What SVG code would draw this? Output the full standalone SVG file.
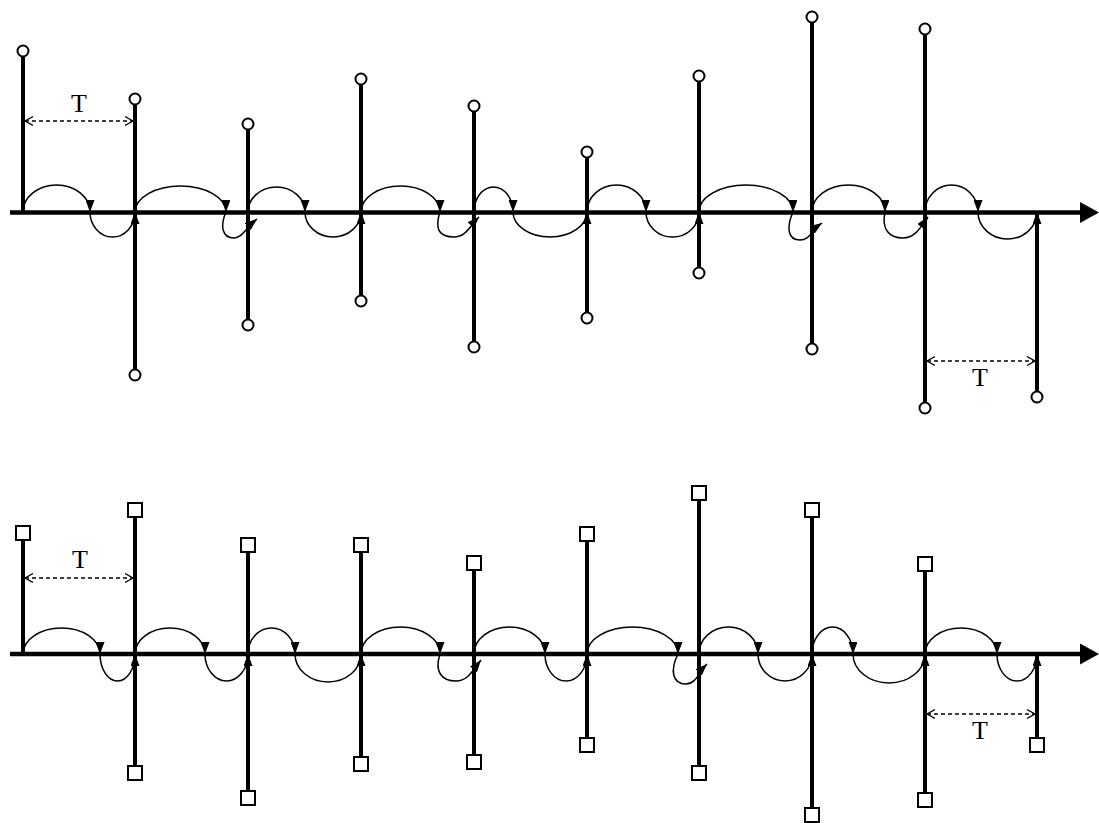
<svg xmlns="http://www.w3.org/2000/svg" width="1099" height="823" viewBox="0 0 1099 823">
<defs>
<style>
.axis{stroke:#000;stroke-width:4.5;fill:none}
.stem{stroke:#000;stroke-width:4;fill:none}
.mark{stroke:#000;stroke-width:2;fill:#fff}
.arc{stroke:#000;stroke-width:1.5;fill:none;marker-end:url(#ah)}
.dim{stroke:#000;stroke-width:1.3;fill:none;stroke-dasharray:4 3;marker-start:url(#ch);marker-end:url(#ch)}
.lbl{font-family:"Liberation Serif","Times New Roman",serif;font-size:26px;fill:#000;text-anchor:middle}
</style>
<marker id="ah" viewBox="0 0 12 9" refX="12" refY="4.5" markerWidth="12" markerHeight="9" markerUnits="userSpaceOnUse" orient="auto"><path d="M0,0 L12,4.5 L0,9 z" fill="#000"/></marker>
<marker id="ch" viewBox="0 0 8 10" refX="8" refY="5" markerWidth="8" markerHeight="10" markerUnits="userSpaceOnUse" orient="auto-start-reverse"><path d="M0,0.5 L8,5 L0,9.5" fill="none" stroke="#000" stroke-width="1.2"/></marker>
</defs>
<rect width="1099" height="823" fill="#fff"/>

<!-- ============ TOP PANEL ============ -->
<g id="top-axis">
<line class="axis" x1="10" y1="212.5" x2="1082" y2="212.5"/>
<polygon points="1080,202 1099,212.5 1080,223" fill="#000"/>
</g>

<g id="top-connectors">
<path class="arc" d="M23,212 A33.5,27 0 0 1 90,212"/>
<path class="arc" d="M90,212 A22.5,25 0 0 0 135,212"/>
<path class="arc" d="M135,212 A45.5,26 0 0 1 226,212"/>
<path class="arc" d="M226,212 C220,226 222,238 234,238 C242,238 246,228 257,219"/>
<path class="arc" d="M248,212 A28.5,25 0 0 1 305,212"/>
<path class="arc" d="M305,212 A28,25 0 0 0 361,212"/>
<path class="arc" d="M361,212 A39.5,26 0 0 1 440,212"/>
<path class="arc" d="M440,212 C434,230 440,237 454,237 C466,237 470,226 479,217"/>
<path class="arc" d="M474,212 A19.5,25 0 0 1 513,212"/>
<path class="arc" d="M513,212 A37,25 0 0 0 587,212"/>
<path class="arc" d="M587,212 A29.5,27 0 0 1 646,212"/>
<path class="arc" d="M646,212 A26.5,25 0 0 0 699,212"/>
<path class="arc" d="M699,212 A47,27 0 0 1 793,212"/>
<path class="arc" d="M793,212 C786,228 788,240 800,240 C810,240 812,230 822,223"/>
<path class="arc" d="M812,212 A36.5,27 0 0 1 885,212"/>
<path class="arc" d="M885,212 C881,230 890,238 903,238 C915,238 920,228 928,217"/>
<path class="arc" d="M925,212 A26.5,27 0 0 1 978,212"/>
<path class="arc" d="M978,212 A29.5,27 0 0 0 1037,212"/>
</g>

<g id="t-s1"><line class="stem" x1="23" y1="212" x2="23" y2="56.5"/><circle class="mark" cx="23" cy="51" r="5.5"/></g>
<g id="t-s2"><line class="stem" x1="135" y1="104.5" x2="135" y2="369.5"/><circle class="mark" cx="135" cy="99" r="5.5"/><circle class="mark" cx="135" cy="375" r="5.5"/></g>
<g id="t-s3"><line class="stem" x1="248" y1="129.5" x2="248" y2="319.5"/><circle class="mark" cx="248" cy="124" r="5.5"/><circle class="mark" cx="248" cy="325" r="5.5"/></g>
<g id="t-s4"><line class="stem" x1="361" y1="84.5" x2="361" y2="295.5"/><circle class="mark" cx="361" cy="79" r="5.5"/><circle class="mark" cx="361" cy="301" r="5.5"/></g>
<g id="t-s5"><line class="stem" x1="474" y1="111.5" x2="474" y2="341.5"/><circle class="mark" cx="474" cy="106" r="5.5"/><circle class="mark" cx="474" cy="347" r="5.5"/></g>
<g id="t-s6"><line class="stem" x1="587" y1="157.5" x2="587" y2="312.5"/><circle class="mark" cx="587" cy="152" r="5.5"/><circle class="mark" cx="587" cy="318" r="5.5"/></g>
<g id="t-s7"><line class="stem" x1="699" y1="81.5" x2="699" y2="267.5"/><circle class="mark" cx="699" cy="76" r="5.5"/><circle class="mark" cx="699" cy="273" r="5.5"/></g>
<g id="t-s8"><line class="stem" x1="812" y1="22.5" x2="812" y2="343.5"/><circle class="mark" cx="812" cy="17" r="5.5"/><circle class="mark" cx="812" cy="349" r="5.5"/></g>
<g id="t-s9"><line class="stem" x1="925" y1="34.5" x2="925" y2="402.5"/><circle class="mark" cx="925" cy="29" r="5.5"/><circle class="mark" cx="925" cy="408" r="5.5"/></g>
<g id="t-s10"><line class="stem" x1="1037" y1="212" x2="1037" y2="391.5"/><circle class="mark" cx="1037" cy="397" r="5.5"/></g>

<g id="t-dim1"><line class="dim" x1="25" y1="121" x2="133" y2="121"/><text class="lbl" x="79" y="112">T</text></g>
<g id="t-dim2"><line class="dim" x1="927" y1="361" x2="1035" y2="361"/><text class="lbl" x="980" y="386">T</text></g>

<!-- ============ BOTTOM PANEL ============ -->
<g id="bottom-axis">
<line class="axis" x1="10" y1="654" x2="1082" y2="654"/>
<polygon points="1080,643.5 1099,654 1080,664.5" fill="#000"/>
</g>

<g id="bottom-connectors">
<path class="arc" d="M23,654 A38.5,26 0 0 1 100,654"/>
<path class="arc" d="M100,654 A17.5,27 0 0 0 135,654"/>
<path class="arc" d="M135,654 A35,26 0 0 1 205,654"/>
<path class="arc" d="M205,654 A21.5,27 0 0 0 248,654"/>
<path class="arc" d="M248,654 A23.5,26 0 0 1 295,654"/>
<path class="arc" d="M295,654 A33,28 0 0 0 361,654"/>
<path class="arc" d="M361,654 A39.5,27 0 0 1 440,654"/>
<path class="arc" d="M440,654 C434,672 442,681 456,681 C468,681 473,670 481,660"/>
<path class="arc" d="M474,654 A35.5,27 0 0 1 545,654"/>
<path class="arc" d="M545,654 A21,27 0 0 0 587,654"/>
<path class="arc" d="M587,654 A45.5,27 0 0 1 678,654"/>
<path class="arc" d="M678,654 C670,670 672,684 686,684 C696,684 699,672 707,664"/>
<path class="arc" d="M699,654 A29.5,27 0 0 1 758,654"/>
<path class="arc" d="M758,654 A27,27 0 0 0 812,654"/>
<path class="arc" d="M812,654 A20.5,27 0 0 1 853,654"/>
<path class="arc" d="M853,654 A36,29 0 0 0 925,654"/>
<path class="arc" d="M925,654 A36,26 0 0 1 997,654"/>
<path class="arc" d="M997,654 A20,27 0 0 0 1037,654"/>
</g>

<g id="b-s1"><line class="stem" x1="23" y1="654" x2="23" y2="540"/><rect class="mark" x="16" y="526" width="14" height="14"/></g>
<g id="b-s2"><line class="stem" x1="135" y1="517" x2="135" y2="766"/><rect class="mark" x="128" y="503" width="14" height="14"/><rect class="mark" x="128" y="766" width="14" height="14"/></g>
<g id="b-s3"><line class="stem" x1="248" y1="552" x2="248" y2="791"/><rect class="mark" x="241" y="538" width="14" height="14"/><rect class="mark" x="241" y="791" width="14" height="14"/></g>
<g id="b-s4"><line class="stem" x1="361" y1="552" x2="361" y2="757"/><rect class="mark" x="354" y="538" width="14" height="14"/><rect class="mark" x="354" y="757" width="14" height="14"/></g>
<g id="b-s5"><line class="stem" x1="474" y1="570" x2="474" y2="755"/><rect class="mark" x="467" y="556" width="14" height="14"/><rect class="mark" x="467" y="755" width="14" height="14"/></g>
<g id="b-s6"><line class="stem" x1="587" y1="541" x2="587" y2="738"/><rect class="mark" x="580" y="527" width="14" height="14"/><rect class="mark" x="580" y="738" width="14" height="14"/></g>
<g id="b-s7"><line class="stem" x1="699" y1="500" x2="699" y2="766"/><rect class="mark" x="692" y="486" width="14" height="14"/><rect class="mark" x="692" y="766" width="14" height="14"/></g>
<g id="b-s8"><line class="stem" x1="812" y1="517" x2="812" y2="808"/><rect class="mark" x="805" y="503" width="14" height="14"/><rect class="mark" x="805" y="808" width="14" height="14"/></g>
<g id="b-s9"><line class="stem" x1="925" y1="571" x2="925" y2="793"/><rect class="mark" x="918" y="557" width="14" height="14"/><rect class="mark" x="918" y="793" width="14" height="14"/></g>
<g id="b-s10"><line class="stem" x1="1037" y1="654" x2="1037" y2="738"/><rect class="mark" x="1030" y="738" width="14" height="14"/></g>

<g id="b-dim1"><line class="dim" x1="25" y1="578" x2="133" y2="578"/><text class="lbl" x="80" y="568">T</text></g>
<g id="b-dim2"><line class="dim" x1="927" y1="714" x2="1035" y2="714"/><text class="lbl" x="980" y="739">T</text></g>
</svg>
